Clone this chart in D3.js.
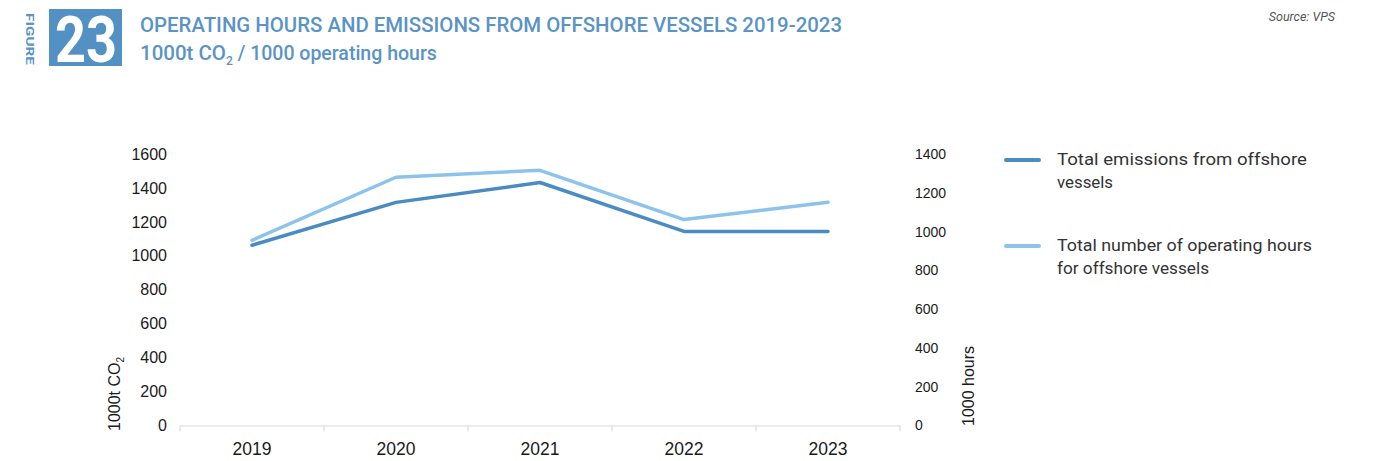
<!DOCTYPE html>
<html>
<head>
<meta charset="utf-8">
<script src="https://cdn.jsdelivr.net/npm/d3@7"></script>
<style>
  html, body { margin: 0; padding: 0; background: #fff; }
  svg { display: block; }
</style>
</head>
<body>
<svg id="chart" width="1374" height="461"></svg>
<script>
// Years on the x axis
const years = ["2019", "2020", "2021", "2022", "2023"];
// Total emissions from offshore vessels, 1000t CO2 (left axis)
const emissions = [1062, 1315, 1432, 1144, 1144];
// Total operating hours for offshore vessels, 1000 hours (right axis)
const hours = [955, 1280, 1316, 1062, 1151];
// Axis ticks
const leftTicks = [0, 200, 400, 600, 800, 1000, 1200, 1400, 1600];
const rightTicks = [0, 200, 400, 600, 800, 1000, 1200, 1400];
// Legend entries (one array per wrapped line)
const legendLabels = [
  ["Total emissions from offshore", "vessels"],
  ["Total number of operating hours", "for offshore vessels"]
];
const legendWidths = [[250, 56], [255, 152]];

const darkBlue = "#4a8bc1";
const lightBlue = "#8dc3ea";
const titleBlue = "#5a93c6";
const axisFont = "'Liberation Sans', Arial, sans-serif";
const textFont = "'Roboto', 'DejaVu Sans Condensed', sans-serif";

const svg = d3.select("#chart");

// ---- Header ----
svg.append("text")
  .attr("transform", "translate(26,13) rotate(90)")
  .attr("font-family", textFont)
  .attr("font-weight", "bold")
  .attr("font-size", 11)
  .attr("fill", titleBlue)
  .attr("textLength", 52)
  .attr("lengthAdjust", "spacingAndGlyphs")
  .text("FIGURE");

svg.append("rect")
  .attr("x", 49).attr("y", 9).attr("width", 73).attr("height", 57)
  .attr("fill", "#5390c4");

svg.append("text")
  .attr("x", 86).attr("y", 62)
  .attr("text-anchor", "middle")
  .attr("font-family", textFont)
  .attr("font-weight", "bold")
  .attr("font-size", 64)
  .attr("fill", "#fff")
  .attr("textLength", 62)
  .attr("lengthAdjust", "spacingAndGlyphs")
  .text("23");

svg.append("text")
  .attr("x", 140).attr("y", 32)
  .attr("font-family", textFont)
  .attr("font-weight", 500)
  .attr("font-size", 20.5)
  .attr("fill", titleBlue)
  .attr("textLength", 702)
  .attr("lengthAdjust", "spacingAndGlyphs")
  .text("OPERATING HOURS AND EMISSIONS FROM OFFSHORE VESSELS 2019-2023");

const sub = svg.append("text")
  .attr("x", 140).attr("y", 60)
  .attr("font-family", textFont)
  .attr("font-weight", 500)
  .attr("font-size", 20.5)
  .attr("fill", titleBlue);
sub.append("tspan").attr("textLength", 86).attr("lengthAdjust", "spacingAndGlyphs").text("1000t CO");
sub.append("tspan").attr("font-size", 12).attr("dy", 5).text("2");
sub.append("tspan").attr("dy", -5).attr("textLength", 204).attr("lengthAdjust", "spacingAndGlyphs")
  .text(" / 1000 operating hours");

svg.append("text")
  .attr("x", 1335).attr("y", 21)
  .attr("text-anchor", "end")
  .attr("font-family", textFont)
  .attr("font-style", "italic")
  .attr("font-size", 12.5)
  .attr("fill", "#555")
  .text("Source: VPS");

// ---- Scales ----
const x = d3.scaleBand().domain(years).range([180, 900]).padding(0);
const yLeft = d3.scaleLinear().domain([0, 1600]).range([425.5, 154]);
const yRight = d3.scaleLinear().domain([0, 1400]).range([425.5, 154]);

// ---- Axes ----
const xAxis = svg.append("g")
  .attr("transform", "translate(0,425.5)")
  .call(d3.axisBottom(x).tickSize(0).tickPadding(17));
xAxis.select(".domain").attr("stroke", "#d9d9d9").attr("stroke-width", 1.2);
xAxis.selectAll("text")
  .attr("font-family", axisFont).attr("font-size", 17.5).attr("fill", "#1a1a1a");

// Boundary tick marks between categories
const boundaries = years.map(d => x(d)).concat([x.range()[1]]);
svg.append("g").selectAll("line")
  .data(boundaries).join("line")
  .attr("x1", d => d).attr("x2", d => d)
  .attr("y1", 425.5).attr("y2", 431)
  .attr("stroke", "#d9d9d9").attr("stroke-width", 1.2);

const leftAxis = svg.append("g")
  .attr("transform", "translate(180,0)")
  .call(d3.axisLeft(yLeft).tickValues(leftTicks).tickFormat(d3.format("d")).tickSize(0).tickPadding(13));
leftAxis.select(".domain").remove();
leftAxis.selectAll("text")
  .attr("font-family", axisFont).attr("font-size", 16).attr("fill", "#1a1a1a");

const rightAxis = svg.append("g")
  .attr("transform", "translate(900,0)")
  .call(d3.axisRight(yRight).tickValues(rightTicks).tickFormat(d3.format("d")).tickSize(0).tickPadding(15));
rightAxis.select(".domain").remove();
rightAxis.selectAll("text")
  .attr("font-family", axisFont).attr("font-size", 14).attr("fill", "#1a1a1a");

// Axis titles
const lt = svg.append("text")
  .attr("transform", "translate(120,431) rotate(-90)")
  .attr("font-family", axisFont)
  .attr("font-size", 16)
  .attr("fill", "#1a1a1a");
lt.append("tspan").text("1000t CO");
lt.append("tspan").attr("font-size", 10).attr("dy", 4).text("2");

svg.append("text")
  .attr("transform", "translate(974,426) rotate(-90)")
  .attr("font-family", axisFont)
  .attr("font-size", 16)
  .attr("fill", "#1a1a1a")
  .text("1000 hours");

// ---- Lines ----
const lineLeft = d3.line().x((d, i) => x(years[i]) + x.bandwidth() / 2).y(d => yLeft(d));
const lineRight = d3.line().x((d, i) => x(years[i]) + x.bandwidth() / 2).y(d => yRight(d));

svg.append("path")
  .datum(hours)
  .attr("d", lineRight)
  .attr("fill", "none")
  .attr("stroke", lightBlue)
  .attr("stroke-width", 3.5)
  .attr("stroke-linecap", "round")
  .attr("stroke-linejoin", "round");

svg.append("path")
  .datum(emissions)
  .attr("d", lineLeft)
  .attr("fill", "none")
  .attr("stroke", darkBlue)
  .attr("stroke-width", 3.5)
  .attr("stroke-linecap", "round")
  .attr("stroke-linejoin", "round");

// ---- Legend ----
const legendColors = [darkBlue, lightBlue];
const legendY = [160, 246];
const legend = svg.append("g");
legendLabels.forEach((lines, i) => {
  legend.append("line")
    .attr("x1", 1006).attr("x2", 1039)
    .attr("y1", legendY[i]).attr("y2", legendY[i])
    .attr("stroke", legendColors[i])
    .attr("stroke-width", 4)
    .attr("stroke-linecap", "round");
  const t = legend.append("text")
    .attr("font-family", textFont)
    .attr("font-size", 16)
    .attr("fill", "#333");
  lines.forEach((s, j) => {
    t.append("tspan")
      .attr("x", 1057)
      .attr("y", legendY[i] + 5 + j * 23)
      .attr("textLength", legendWidths[i][j])
      .attr("lengthAdjust", "spacingAndGlyphs")
      .text(s);
  });
});
</script>
</body>
</html>
